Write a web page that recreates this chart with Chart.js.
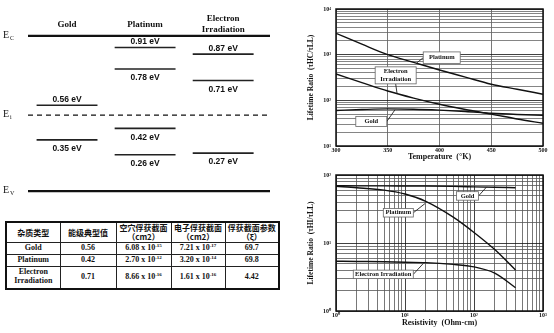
<!DOCTYPE html>
<html>
<head>
<meta charset="utf-8">
<script src="https://cdn.jsdelivr.net/npm/chart.js@4.4.1/dist/chart.umd.min.js"></script>
<style>
  html, body { margin: 0; padding: 0; background: #fff; }
  body { width: 554px; height: 333px; position: relative; overflow: hidden; }
  canvas { position: absolute; }
  #levelChart { left: 0; top: 0; }
  #tempChart { left: 295px; top: 0; }
  #resChart { left: 295px; top: 165px; }
  #params {
    position: absolute; left: 5px; top: 221px; width: 273px;
    border-collapse: collapse; border: 2px solid #111; table-layout: fixed;
    font-family: 'Liberation Serif', serif; font-weight: bold; font-size: 8px;
    color: #111; text-align: center;
  }
  #params td, #params th { border: 1px solid #222; padding: 0; line-height: 1.1; }
  #params th { font-family: 'Noto Sans CJK SC', sans-serif; font-weight: bold; font-size: 8px; line-height: 1.15; }
  #params sup { font-size: 5px; vertical-align: 3px; line-height: 0; }
  #params tr.head { height: 20px; }
  #params tr.r0, #params tr.r1 { height: 12px; }
  #params tr.r2 { height: 23px; }
</style>
</head>
<body>
<canvas id="levelChart" width="285" height="200"></canvas>
<table id="params">
  <colgroup><col style="width:54px"><col style="width:56px"><col style="width:55px"><col style="width:54px"><col style="width:54px"></colgroup>
  <tbody></tbody>
</table>
<canvas id="tempChart" width="259" height="165"></canvas>
<canvas id="resChart" width="259" height="168"></canvas>
<script>
// energy level diagram (eV)
const columns = ['Gold', 'Platinum', 'Electron Irradiation'];
const goldLevels = [0.56, 0.35];
const platinumLevels = [0.91, 0.78, 0.42, 0.26];
const electronLevels = [0.87, 0.71, 0.27];
const bandNames = ['C', 'i', 'V'];
const bandLevels = [0.98, 0.50, 0.04];

// parameter table
const tableHead = ['杂质类型', '能级典型值', '空穴俘获截面|（cm2）', '电子俘获截面|（cm2）', '俘获截面参数|（ξ）'];
const impurityRows = ['Gold', 'Platinum', 'Electron Irradiation'];
const typicalLevel = [0.56, 0.42, 0.71];
const holeSigma = [6.08, 2.70, 8.66];
const holeExp = [-15, -12, -16];
const electronSigma = [7.21, 3.20, 1.61];
const electronExp = [-17, -14, -16];
const sigmaRatio = [69.7, 69.8, 4.42];

// lifetime ratio vs temperature
const temps = [300, 325, 350, 375, 400, 425, 450, 475, 500];
const platinumVsTemp = [2940, 1700, 1000, 680, 462, 322, 225, 175, 136];
const electronVsTemp = [378, 245, 160, 112, 82, 63, 50, 39, 31.5];
const goldVsTemp = [60, 63, 65, 64, 61, 57, 52, 49, 47];
const tempTicks = [300, 350, 400, 450, 500];
const ratioDecadesT = [10, 100, 1000, 10000];

// lifetime ratio vs resistivity
const resistivity = [1, 2, 5, 10, 20, 50, 100, 200, 400];
const goldVsRes = [69.5, 69.3, 69.2, 69, 68.8, 68, 67, 66, 65];
const platinumVsRes = [68, 65, 60, 52.5, 41, 24, 14.3, 8, 4];
const electronVsRes = [5.4, 5.35, 5.3, 5.2, 5.15, 4.85, 4.45, 3.6, 2.2];
const resDecades = [1, 10, 100, 1000];
const ratioDecadesR = [1, 10, 100];

const columnLevels = [goldLevels, platinumLevels, electronLevels];
const SUP = { '-': '⁻', '0': '⁰', '1': '¹', '2': '²', '3': '³', '4': '⁴' };
const sup = n => String(n).split('').map(c => SUP[c]).join('');

// ---------- table ----------
const sci = (m, e) => `${m.toFixed(2)} x 10<sup>${e}</sup>`;
let rows = '<tr class="head">' + tableHead.map(h => '<th>' + h.split('|').join('<br>') + '</th>').join('') + '</tr>';
impurityRows.forEach((name, i) => {
    rows += `<tr class="r${i}"><td>${name.split(' ').join('<br>')}</td><td>${typicalLevel[i].toFixed(2)}</td>` +
        `<td>${sci(holeSigma[i], holeExp[i])}</td><td>${sci(electronSigma[i], electronExp[i])}</td><td>${sigmaRatio[i]}</td></tr>`;
});
document.querySelector('#params tbody').innerHTML = rows;

// ---------- energy level diagram ----------
const xSpan = [-0.5, 2.6];
const halfWidth = 0.39;
const levelSets = [];
bandLevels.forEach((lv, i) => {
    levelSets.push({
        data: [{ x: xSpan[0], y: lv }, { x: xSpan[1], y: lv }],
        borderColor: '#111',
        borderWidth: i === 1 ? 1.2 : 2.2,
        borderDash: i === 1 ? [5, 4] : [],
        pointRadius: 0,
        clip: false
    });
});
columnLevels.forEach((levels, col) => {
    levels.forEach(e => {
        levelSets.push({
            data: [{ x: col - halfWidth, y: e }, { x: col + halfWidth, y: e }],
            borderColor: '#222',
            borderWidth: 1.6,
            pointRadius: 0,
            clip: false
        });
    });
});

const levelText = {
    id: 'levelText',
    afterDatasetsDraw(chart) {
        const { ctx, scales: { x, y } } = chart;
        ctx.save();
        ctx.fillStyle = '#111';
        ctx.textBaseline = 'middle';
        bandLevels.forEach((lv, i) => {
            const py = y.getPixelForValue(lv);
            ctx.textAlign = 'left';
            ctx.font = '10px "Liberation Serif"';
            ctx.fillText('E', 3, py - 1);
            ctx.font = '6px "Liberation Serif"';
            ctx.fillText(bandNames[i], 10, py + 2);
        });
        const top = y.getPixelForValue(bandLevels[0]);
        ctx.textAlign = 'center';
        ctx.font = 'bold 9px "Liberation Serif"';
        columns.forEach((name, i) => {
            const cx = x.getPixelForValue(i);
            const words = name.split(' ');
            if (words.length > 1) {
                ctx.fillText(words[0], cx, top - 17);
                ctx.fillText(words[1], cx, top - 6);
            } else {
                ctx.fillText(name, cx, top - 11);
            }
        });
        ctx.font = 'bold 8.5px "Liberation Sans"';
        columnLevels.forEach((levels, i) => {
            const cx = x.getPixelForValue(i);
            levels.forEach((e, k) => {
                const py = y.getPixelForValue(e);
                ctx.fillText(e.toFixed(2) + ' eV', cx, k === 0 ? py - 5.5 : py + 9);
            });
        });
        ctx.restore();
    }
};

new Chart(document.getElementById('levelChart'), {
    type: 'line',
    data: { datasets: levelSets },
    options: {
        responsive: false,
        animation: false,
        layout: { padding: { left: 28, right: 15, top: 12.85, bottom: 2.35 } },
        plugins: { legend: { display: false }, tooltip: { enabled: false } },
        scales: {
            x: { type: 'linear', min: xSpan[0], max: xSpan[1], display: false },
            y: { type: 'linear', min: 0, max: 1.12, display: false }
        }
    },
    plugins: [levelText]
});

// ---------- log charts ----------
function logGrid(decades) {
    const vals = [];
    decades.forEach((d, i) => {
        if (i === decades.length - 1) { vals.push(d); return; }
        for (let m = 1; m < 10; m++) vals.push(d * m);
    });
    return vals.map(value => ({ value }));
}

const tickFont = { family: 'Liberation Serif', size: 6, weight: 'bold' };
const axisFont = { family: 'Liberation Serif', size: 8, weight: 'bold' };
const yTitleFont = { family: 'Liberation Serif', size: 7.5, weight: 'bold' };

const frame = {
    id: 'frame',
    afterDatasetsDraw(chart) {
        const { ctx, chartArea: a } = chart;
        ctx.save();
        ctx.strokeStyle = '#111';
        ctx.lineWidth = 1.5;
        ctx.strokeRect(a.left, a.top, a.right - a.left, a.bottom - a.top);
        ctx.restore();
    }
};

const callouts = {
    id: 'callouts',
    afterDatasetsDraw(chart, args, opts) {
        const { ctx, scales: { x, y } } = chart;
        ctx.save();
        opts.items.forEach(c => {
            const tx = x.getPixelForValue(c.at[0]);
            const ty = y.getPixelForValue(c.at[1]);
            const cx = tx + c.dx, cy = ty + c.dy;
            const bx = cx - c.w / 2, by = cy - c.h / 2;
            let sx = cx, sy = cy;
            if (c.side === 'left') sx = bx;
            if (c.side === 'right') sx = bx + c.w;
            if (c.side === 'bottom') sy = by + c.h;
            if (c.side === 'top') sy = by;
            ctx.strokeStyle = '#222';
            ctx.lineWidth = 0.9;
            ctx.beginPath();
            ctx.moveTo(sx, sy);
            ctx.lineTo(tx, ty);
            ctx.stroke();
            ctx.fillStyle = '#fff';
            ctx.fillRect(bx, by, c.w, c.h);
            ctx.strokeStyle = '#666';
            ctx.lineWidth = 0.8;
            ctx.strokeRect(bx, by, c.w, c.h);
            ctx.fillStyle = '#111';
            ctx.font = 'bold 6.5px "Liberation Serif"';
            ctx.textAlign = 'center';
            ctx.textBaseline = 'middle';
            const lh = 7.5;
            c.lines.forEach((t, k) => {
                ctx.fillText(t, cx, cy + (k - (c.lines.length - 1) / 2) * lh);
            });
        });
        ctx.restore();
    }
};

const curve = (xs, ys) => ({
    data: xs.map((v, i) => ({ x: v, y: ys[i] })),
    borderColor: '#111',
    borderWidth: 1.4,
    pointRadius: 0,
    cubicInterpolationMode: 'monotone'
});

new Chart(document.getElementById('tempChart'), {
    type: 'line',
    data: {
        datasets: [
            curve(temps, platinumVsTemp),
            curve(temps, electronVsTemp),
            curve(temps, goldVsTemp)
        ]
    },
    options: {
        responsive: false,
        animation: false,
        layout: { padding: { left: 12, right: 11, top: 9, bottom: 3 } },
        plugins: {
            legend: { display: false },
            tooltip: { enabled: false },
            callouts: {
                items: [
                    { lines: ['Platinum'], at: [378, 660], dx: 25, dy: -5.2, w: 37, h: 11.6, side: 'left' },
                    { lines: ['Electron', 'Irradiation'], at: [359, 140], dx: -1.4, dy: -18.3, w: 41, h: 17, side: 'bottom' },
                    { lines: ['Gold'], at: [357, 62], dx: -23.7, dy: 11.7, w: 31, h: 10, side: 'right' }
                ]
            }
        },
        scales: {
            x: {
                type: 'linear', min: 300, max: 500,
                afterBuildTicks: s => { s.ticks = tempTicks.map(value => ({ value })); },
                afterFit: s => { s.height = 16; },
                grid: { color: '#555', lineWidth: 0.8, drawTicks: false },
                border: { display: false },
                ticks: { font: tickFont, color: '#111', padding: 1, maxRotation: 0, autoSkip: false },
                title: { display: true, text: 'Temperature  (°K)', font: axisFont, color: '#111', padding: 0 }
            },
            y: {
                type: 'logarithmic', min: 10, max: 10000,
                afterBuildTicks: s => { s.ticks = logGrid(ratioDecadesT); },
                afterFit: s => { s.width = 29; },
                grid: {
                    color: c => ratioDecadesT.includes(c.tick.value) ? '#111' : '#666',
                    lineWidth: 0.8,
                    drawTicks: false
                },
                border: { display: false },
                ticks: {
                    font: tickFont, color: '#111', padding: 5, autoSkip: false,
                    callback: v => ratioDecadesT.includes(v) ? '10' + sup(Math.round(Math.log10(v))) : ''
                },
                title: { display: true, text: 'Lifetime Ratio  (τHC/τLL)', font: yTitleFont, color: '#111', padding: 0 }
            }
        }
    },
    plugins: [frame, callouts]
});

new Chart(document.getElementById('resChart'), {
    type: 'line',
    data: {
        datasets: [
            curve(resistivity, goldVsRes),
            curve(resistivity, platinumVsRes),
            curve(resistivity, electronVsRes)
        ]
    },
    options: {
        responsive: false,
        animation: false,
        layout: { padding: { left: 12, right: 11, top: 10, bottom: 5 } },
        plugins: {
            legend: { display: false },
            tooltip: { enabled: false },
            callouts: {
                items: [
                    { lines: ['Gold'], at: [153, 67], dx: -19.2, dy: 9.1, w: 22, h: 8.5, side: 'right' },
                    { lines: ['Platinum'], at: [19.5, 38], dx: -26.7, dy: 9.2, w: 30, h: 8.5, side: 'right' },
                    { lines: ['Electron Irradiation'], at: [18.4, 5.0], dx: -40, dy: 10.9, w: 60, h: 8.5, side: 'right' }
                ]
            }
        },
        scales: {
            x: {
                type: 'logarithmic', min: 1, max: 1000,
                afterBuildTicks: s => { s.ticks = logGrid(resDecades); },
                afterFit: s => { s.height = 17; },
                grid: {
                    color: c => resDecades.includes(c.tick.value) ? '#111' : '#555',
                    lineWidth: 0.8,
                    drawTicks: false
                },
                border: { display: false },
                ticks: {
                    font: tickFont, color: '#111', padding: 1, maxRotation: 0, autoSkip: false,
                    callback: v => resDecades.includes(v) ? '10' + sup(Math.round(Math.log10(v))) : ''
                },
                title: { display: true, text: 'Resistivity  (Ohm-cm)', font: axisFont, color: '#111', padding: 0 }
            },
            y: {
                type: 'logarithmic', min: 1, max: 100,
                afterBuildTicks: s => { s.ticks = logGrid(ratioDecadesR); },
                afterFit: s => { s.width = 29; },
                grid: {
                    color: c => ratioDecadesR.includes(c.tick.value) ? '#111' : '#555',
                    lineWidth: 0.8,
                    drawTicks: false
                },
                border: { display: false },
                ticks: {
                    font: tickFont, color: '#111', padding: 5, autoSkip: false,
                    callback: v => ratioDecadesR.includes(v) ? '10' + sup(Math.round(Math.log10(v))) : ''
                },
                title: { display: true, text: 'Lifetime Ratio  (τHI/τLL)', font: yTitleFont, color: '#111', padding: 0 }
            }
        }
    },
    plugins: [frame, callouts]
});
</script>
</body>
</html>
